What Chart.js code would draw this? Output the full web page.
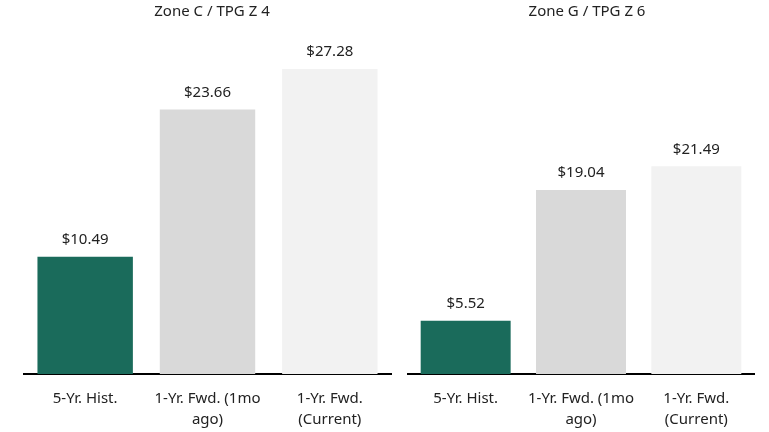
<!DOCTYPE html>
<html>
<head>
<meta charset="utf-8">
<script src="https://cdn.jsdelivr.net/npm/chart.js@4"></script>
<style>
  body { margin: 0; background: #fff; }
  .box { position: absolute; top: 0; height: 432px; }
</style>
</head>
<body>
<div class="box" style="left:0;width:400px"><canvas id="zoneC"></canvas></div>
<div class="box" style="left:400px;width:369px"><canvas id="zoneG"></canvas></div>
<script>
var categories = ['5-Yr. Hist.', ['1-Yr. Fwd. (1mo', 'ago)'], ['1-Yr. Fwd.', '(Current)']]
var zoneCValues = [10.49, 23.66, 27.28]
var zoneGValues = [5.52, 19.04, 21.49]
var barColors = ['#1a6b5b', '#d9d9d9', '#f2f2f2']

Chart.defaults.font.family = '"Noto Sans", "Open Sans", sans-serif'
Chart.defaults.color = '#222'

// draws the $ value over each bar
var valueLabels = {
  id: 'valueLabels',
  afterDatasetsDraw(chart) {
    var ctx = chart.ctx
    var meta = chart.getDatasetMeta(0)
    ctx.save()
    ctx.font = '15px "Noto Sans", "Open Sans", sans-serif'
    ctx.fillStyle = '#222'
    ctx.textAlign = 'center'
    ctx.textBaseline = 'middle'
    meta.data.forEach(function (bar, i) {
      var v = chart.data.datasets[0].data[i]
      ctx.fillText('$' + v.toFixed(2), bar.x, bar.y - 17)
    })
    ctx.restore()
  },
}

// rightGap: blank y axis on the right, so the title sits a bit right of the bars
function drawZone(canvasId, title, values, yMax, padding, rightGap) {
  var ctx = document.getElementById(canvasId).getContext('2d')
  new Chart(ctx, {
    type: 'bar',
    data: {
      labels: categories,
      datasets: [
        {
          data: values,
          backgroundColor: barColors,
          barPercentage: 0.78,
          categoryPercentage: 1,
        },
      ],
    },
    options: {
      responsive: true,
      maintainAspectRatio: false,
      animation: false,
      layout: { padding: padding },
      scales: {
        x: {
          grid: { display: false, drawTicks: false },
          border: { display: true, color: '#000', width: 2 },
          ticks: {
            font: { size: 15, lineHeight: 1.4 },
            color: '#222',
            padding: 14,
            maxRotation: 0,
          },
        },
        y: {
          position: 'right',
          min: 0,
          max: yMax,
          grid: { display: false, drawTicks: false },
          border: { display: false },
          ticks: { display: false },
          afterFit: function (scale) {
            scale.width = rightGap
          },
        },
      },
      plugins: {
        legend: { display: false },
        tooltip: { enabled: false },
        title: {
          display: true,
          text: title,
          color: '#222',
          font: { size: 15, weight: 'normal' },
          padding: { top: 2, bottom: 9 },
        },
      },
    },
    plugins: [valueLabels],
  })
}

drawZone('zoneC', 'Zone C / TPG Z 4', zoneCValues, 30.76, { left: 24, right: 0, top: 1, bottom: -12 }, 9)
drawZone('zoneG', 'Zone G / TPG Z 6', zoneGValues, 35.6, { left: 8, right: 3, top: 1, bottom: -12 }, 12)
</script>
</body>
</html>
